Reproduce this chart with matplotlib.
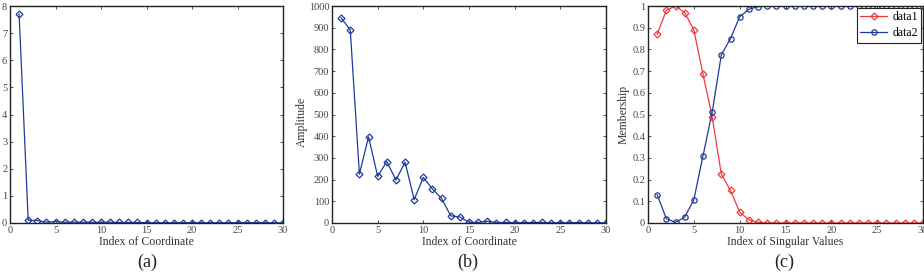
import numpy as np
import matplotlib.pyplot as plt

plt.rcParams['font.family'] = 'Liberation Serif'
plt.rcParams['font.size'] = 7

idx = np.arange(1, 31)

# (a) amplitude, in units of 1e4
amp_a = [7.7, 0.1, 0.09, 0.03, 0.05, 0.03, 0.03, 0.03, 0.03, 0.02,
         0.03, 0.02, 0.02, 0.02, 0.01, 0.01, 0.01, 0.01, 0.01, 0.01,
         0.01, 0.01, 0.01, 0.01, 0.01, 0.01, 0.01, 0.01, 0.01, 0.0]

# (b) amplitude
amp_b = [945, 890, 225, 397, 215, 283, 198, 280, 108, 210,
         157, 113, 33, 28, 3, 3, 8, 2, 3, 1,
         2, 2, 3, 1, 1, 2, 2, 1, 1, 0]

# (c) membership
data1 = [0.87, 0.98, 1.0, 0.97, 0.89, 0.685, 0.49, 0.225, 0.15, 0.05,
         0.015, 0.003] + [0.0] * 18
data2 = [0.13, 0.02, 0.003, 0.027, 0.107, 0.31, 0.51, 0.775, 0.85, 0.95,
         0.985, 0.997] + [1.0] * 18

blue = '#1f3a9a'
red = '#f03a3a'

fig = plt.figure(figsize=(9.24, 2.72), dpi=100)
W, H = 924.0, 272.0
bot = 1 - 223 / H
hgt = (223 - 6) / H
axa = fig.add_axes([10 / W, bot, 273 / W, hgt])
axb = fig.add_axes([332 / W, bot, 274 / W, hgt])
axc = fig.add_axes([648 / W, bot, 275 / W, hgt])

def style(ax):
    ax.tick_params(direction='in', top=True, right=True, length=2.5, width=0.6,
                   labelsize=7.5, pad=2, colors='#333333', labelcolor='#444444')
    for s in ax.spines.values():
        s.set_linewidth(1.0)
        s.set_color('#222222')
    ax.set_xlim(0, 30)
    ax.set_xticks([0, 5, 10, 15, 20, 25, 30])

axa.plot(idx, amp_a, '-D', color=blue, lw=0.9, ms=3.5, mfc='none', mew=0.9)
style(axa)
axa.set_ylim(0, 8)
axa.set_yticks(range(0, 9))
axa.set_xlabel('Index of Coordinate', fontsize=8.5, color='#333333', labelpad=1)
fig.text(10 / W, 1 - 3 / H, 'x 10$^4$', fontsize=7.5, color='#444444', va='bottom')

axb.plot(idx, amp_b, '-D', color=blue, lw=0.9, ms=3.5, mfc='none', mew=0.9)
style(axb)
axb.set_ylim(0, 1000)
axb.set_yticks(range(0, 1001, 100))
axb.set_xlabel('Index of Coordinate', fontsize=8.5, color='#333333', labelpad=1)
fig.text(302 / W, 0.55, 'Amplitude', rotation=90, fontsize=8.5, color='#333333',
         ha='center', va='center')

axc.plot(idx, data1, '-D', color=red, lw=0.9, ms=3.5, mfc='none', mew=0.9, label='data1')
axc.plot(idx, data2, '-o', color=blue, lw=0.9, ms=3.8, mfc='none', mew=0.9, label='data2')
style(axc)
axc.set_ylim(0, 1)
axc.set_yticks(np.arange(0, 1.01, 0.1))
axc.set_yticklabels(['0', '0.1', '0.2', '0.3', '0.4', '0.5', '0.6', '0.7', '0.8', '0.9', '1'])
axc.set_xlabel('Index of Singular Values', fontsize=8.5, color='#333333', labelpad=1)
axc.set_ylabel('Membership', fontsize=8.5, color='#333333', labelpad=2)
leg = axc.legend(loc='upper right', fontsize=8.5, fancybox=False, framealpha=1,
                 borderpad=0.3, handlelength=2.3, handletextpad=0.4,
                 labelspacing=0.35, borderaxespad=0.15)
leg.get_frame().set_edgecolor('#222222')
leg.get_frame().set_linewidth(0.8)

for x, lab in [(147, '(a)'), (468, '(b)'), (784, '(c)')]:
    fig.text(x / W, 1 - 262 / H, lab, fontsize=13, color='#222222',
             ha='center', va='center')

fig.savefig('out.png', dpi=100)
